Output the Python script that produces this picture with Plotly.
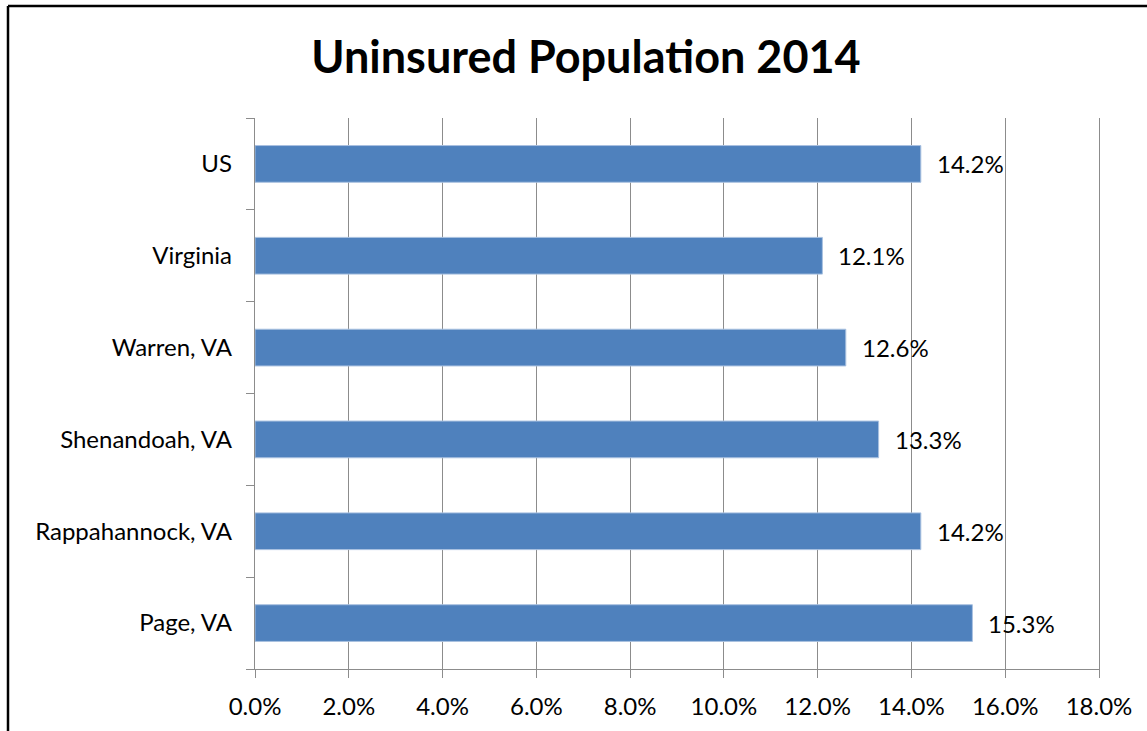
import plotly.graph_objects as go

categories = ["Page, VA", "Rappahannock, VA", "Shenandoah, VA", "Warren, VA", "Virginia", "US"]
values = [0.153, 0.142, 0.133, 0.126, 0.121, 0.142]
tick_vals = [0.0, 0.02, 0.04, 0.06, 0.08, 0.10, 0.12, 0.14, 0.16, 0.18]
title_text = "Uninsured Population 2014"

FONT = "Lato"
GRID = "#8c8c8c"
FS = 24

W, H = 1147, 731
L, R, T, B = 255, 48, 118, 62
pw, ph = W - L - R, H - T - B

fig = go.Figure()
fig.add_trace(go.Bar(
    x=values, y=categories, orientation="h",
    marker=dict(color="#4F81BD", line=dict(color="#a9c1e0", width=1)),
    width=0.4, hoverinfo="skip",
))

annotations = [
    dict(x=v, y=c, xref="x", yref="y", text=f"{v*100:.1f}%", showarrow=False,
         xanchor="left", yanchor="middle", xshift=14,
         font=dict(family=FONT, size=FS, color="black"))
    for c, v in zip(categories, values)
]

# chart border (left and top edges)
lx = (8 - L) / pw
ty = (H - B - 6) / ph
shapes = [
    dict(type="line", xref="paper", yref="paper", x0=lx, x1=lx, y0=ty, y1=-0.2,
         line=dict(color="black", width=2.5)),
    dict(type="line", xref="paper", yref="paper", x0=lx, x1=(W - L) / pw, y0=ty, y1=ty,
         line=dict(color="black", width=2.5)),
]

fig.update_layout(
    width=W, height=H,
    margin=dict(l=L, r=R, t=T, b=B, pad=0),
    paper_bgcolor="white", plot_bgcolor="white",
    showlegend=False,
    title=dict(text=f"<b>{title_text}</b>", x=586 / W, xanchor="center",
               y=1 - 57 / H, yanchor="middle",
               font=dict(family=FONT, size=45, color="black")),
    font=dict(family=FONT, size=FS, color="black"),
    annotations=annotations,
    shapes=shapes,
    bargap=0.6,
)
fig.update_xaxes(
    range=[0, 0.18], tickvals=tick_vals, tickformat=".1%",
    showgrid=True, gridcolor=GRID, gridwidth=1.3,
    showline=True, linecolor=GRID, linewidth=1.3,
    ticks="outside", ticklen=8, tickcolor=GRID, tickwidth=1.3,
    zeroline=False, ticklabelstandoff=8,
    tickfont=dict(family=FONT, size=FS, color="black"),
    fixedrange=True,
)
fig.update_yaxes(
    categoryorder="array", categoryarray=categories,
    showgrid=False, showline=True, linecolor=GRID, linewidth=1.3,
    mirror=True,
    ticks="outside", ticklen=8, tickcolor=GRID, tickwidth=1.3,
    tickson="boundaries", ticklabelstandoff=17,
    tickfont=dict(family=FONT, size=FS, color="black"),
    fixedrange=True,
)

fig.write_html(
    "out.html",
    config={"displayModeBar": False},
    post_script=(
        "document.body.style.margin='0';"
        "document.body.style.overflow='hidden';"
        "document.documentElement.style.overflow='hidden';"
        "document.documentElement.style.scrollbarWidth='none';"
        "document.body.style.scrollbarWidth='none';"
    ),
)
